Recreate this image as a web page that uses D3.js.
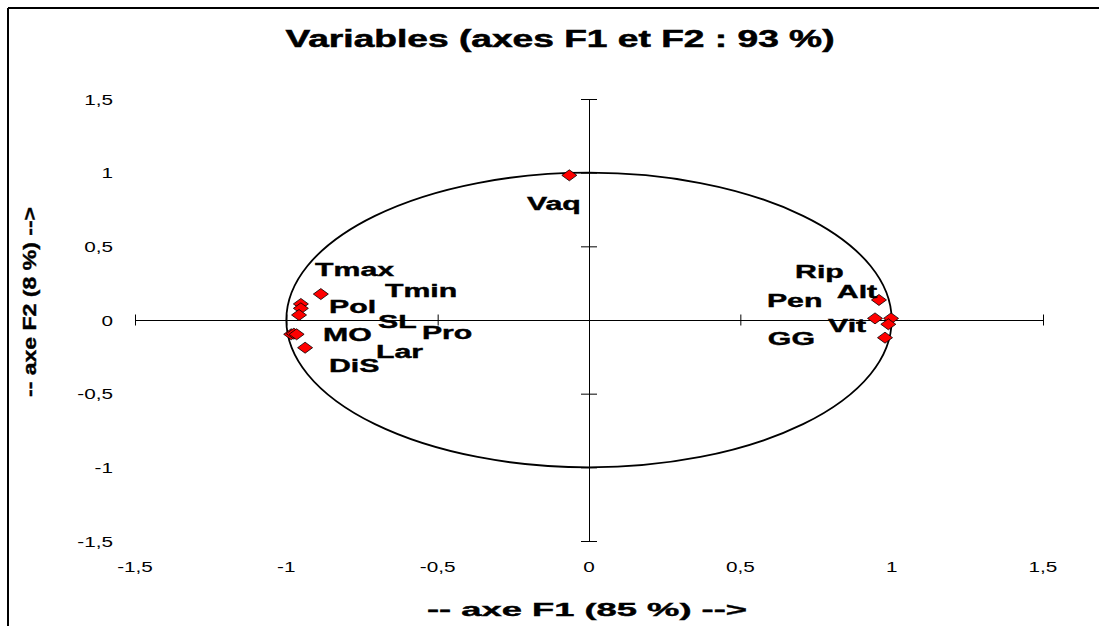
<!DOCTYPE html>
<html><head><meta charset="utf-8">
<script src="https://cdn.jsdelivr.net/npm/d3@7"></script>
<style>body{margin:0;background:#fff}svg{display:block}text{font-family:"Liberation Sans",Arial,sans-serif;fill:#000}</style>
</head><body><svg id="c" width="1099" height="626"></svg>
<script>
// ---- data ----
const variables = ["Tmax","Tmin","Pol","SL","MO","Pro","Lar","DiS","Vaq","Rip","Alt","Pen","Vit","GG"];
const f1 = [-0.886,-0.952,-0.952,-0.958,-0.984,-0.975,-0.966,-0.938,-0.065,0.958,0.945,0.998,0.989,0.978];
const f2 = [0.176,0.109,0.079,0.034,-0.097,-0.093,-0.097,-0.188,0.982,0.136,0.011,0.011,-0.029,-0.120];
const labelF1 = [-0.905,-0.674,-0.859,-0.697,-0.879,-0.552,-0.704,-0.859,-0.205,0.681,0.819,0.588,0.790,0.591];
const labelF2 = [0.299,0.156,0.048,-0.054,-0.143,-0.129,-0.258,-0.353,0.747,0.285,0.149,0.088,-0.081,-0.170];
const tickValues = [-1.5,-1,-0.5,0,0.5,1,1.5];
const tickLabels = ["-1,5","-1","-0,5","0","0,5","1","1,5"];
const title = "Variables (axes F1 et F2 : 93 %)";
const xTitle = "-- axe F1 (85 %) -->";
const yTitle = "-- axe F2 (8 %) -->";

// ---- drawing ----
const svg = d3.select("#c");
const x = d3.scaleLinear().domain([-1.5,1.5]).range([135,1043]);
const y = d3.scaleLinear().domain([-1.5,1.5]).range([541,99]);

function stretch(sel, k){
  sel.each(function(){
    const w = this.getComputedTextLength();
    d3.select(this).attr("textLength", w*k).attr("lengthAdjust","spacingAndGlyphs");
  });
}

// frame
svg.append("line").attr("x1",8).attr("y1",8).attr("x2",1099).attr("y2",8).attr("stroke","#000").attr("stroke-width",2);
svg.append("line").attr("x1",8).attr("y1",8).attr("x2",8).attr("y2",626).attr("stroke","#000").attr("stroke-width",2);

// x axis through origin
const gx = svg.append("g").attr("transform",`translate(0,${y(0)})`)
  .call(d3.axisBottom(x).tickValues(tickValues).tickSizeOuter(0).tickFormat(""));
gx.selectAll(".tick line").attr("y1",-5.5).attr("y2",5.5).attr("stroke","#000");
gx.select(".domain").attr("stroke","#000");

// y axis through origin
const gy = svg.append("g").attr("transform",`translate(${x(0)},0)`)
  .call(d3.axisLeft(y).tickValues(tickValues).tickSizeOuter(0).tickFormat(""));
gy.selectAll(".tick line").attr("x1",-8).attr("x2",8).attr("stroke","#000");
gy.select(".domain").attr("stroke","#000");

// tick labels (low position)
svg.append("g").selectAll("text").data(tickValues).join("text")
  .attr("x", d=>x(d)).attr("y", 572).attr("text-anchor","middle")
  .attr("font-size",15).text((d,i)=>tickLabels[i]).call(stretch,1.38);
svg.append("g").selectAll("text").data(tickValues).join("text")
  .attr("x", 113).attr("y", d=>y(d)+5.5).attr("text-anchor","end")
  .attr("font-size",15).text((d,i)=>tickLabels[i]).call(stretch,1.38);

// correlation circle
svg.append("ellipse").attr("cx",x(0)).attr("cy",y(0))
  .attr("rx",x(1)-x(0)).attr("ry",y(0)-y(1))
  .attr("fill","none").attr("stroke","#000").attr("stroke-width",1.8);

// markers
svg.append("g").selectAll("path").data(variables).join("path")
  .attr("d","M0,-5.5L7.5,0L0,5.5L-7.5,0Z")
  .attr("transform",(d,i)=>`translate(${x(f1[i])},${y(f2[i])})`)
  .attr("fill","#ff0000").attr("stroke","#000").attr("stroke-width",0.8);

// labels
svg.append("g").selectAll("text").data(variables).join("text")
  .attr("x",(d,i)=>x(labelF1[i])).attr("y",(d,i)=>y(labelF2[i]))
  .attr("font-size",18).attr("font-weight","bold")
  .attr("stroke","#000").attr("stroke-width",0.4)
  .text(d=>d).call(stretch,1.68);

// titles
svg.append("text").attr("x",560).attr("y",47).attr("text-anchor","middle")
  .attr("font-size",23).attr("font-weight","bold").attr("stroke","#000").attr("stroke-width",0.5)
  .attr("textLength",549).attr("lengthAdjust","spacingAndGlyphs").text(title);
svg.append("text").attr("x",587).attr("y",616).attr("text-anchor","middle")
  .attr("font-size",19).attr("font-weight","bold").attr("stroke","#000").attr("stroke-width",0.4)
  .attr("textLength",320).attr("lengthAdjust","spacingAndGlyphs").text(xTitle);
svg.append("text").attr("transform","translate(36,302) rotate(-90)").attr("text-anchor","middle")
  .attr("font-size",19).attr("font-weight","bold").attr("stroke","#000").attr("stroke-width",0.4)
  .attr("textLength",190).attr("lengthAdjust","spacingAndGlyphs").text(yTitle);
</script></body></html>
